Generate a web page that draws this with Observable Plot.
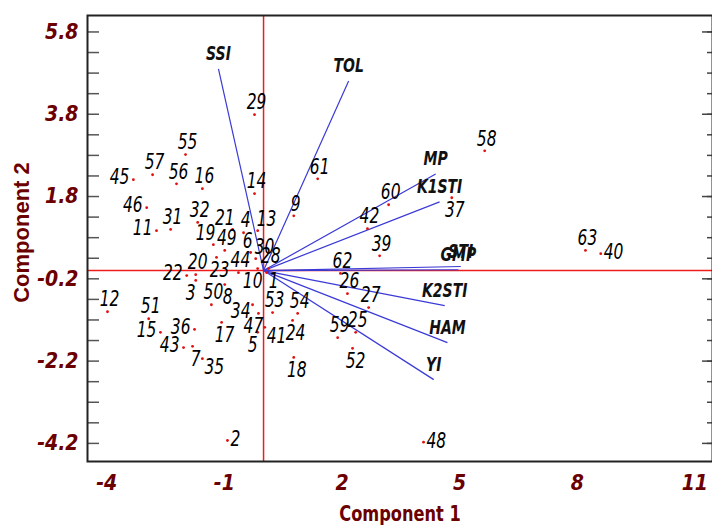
<!DOCTYPE html>
<html>
<head>
<meta charset="utf-8">
<script src="https://cdn.jsdelivr.net/npm/d3@7"></script>
<script src="https://cdn.jsdelivr.net/npm/@observablehq/plot@0.6"></script>
<style>
  html, body { margin: 0; padding: 0; background: #fff; }
  #chart svg { display: block; }
  .tick-lbl text { font-family: "Liberation Sans Narrow", "DejaVu Sans Condensed", "Arial Narrow", sans-serif; font-weight: bold; font-style: italic; }
</style>
</head>
<body>
<div id="chart"></div>
<script>
// Genotype scores (Component 1, Component 2)
const genotypeIds = [1,2,3,4,5,6,7,8,9,10,11,12,13,14,15,16,17,18,19,20,21,22,23,24,25,26,27,28,29,30,31,32,34,35,36,37,39,40,41,42,43,44,45,46,47,48,49,50,51,52,53,54,55,56,57,58,59,60,61,62,63];
const genotypePC1 = [0.08,-0.92,-1.73,-0.51,-0.15,-0.33,-1.81,-0.99,0.77,-0.15,-2.73,-3.98,-0.15,-0.23,-2.63,-1.56,-1.07,0.77,-1.28,-1.73,-0.79,-1.96,-1.20,0.74,2.35,2.14,2.68,0.13,-0.23,-0.20,-2.37,-1.68,-0.28,-1.56,-1.76,4.80,2.96,8.60,0.03,2.65,-2.04,-0.64,-3.32,-2.98,-0.13,4.08,-0.99,-1.33,-2.93,2.27,0.23,0.87,-1.99,-2.22,-2.83,5.64,1.89,3.19,1.38,1.96,8.21];
const genotypePC2 = [-0.05,-4.13,-0.24,0.92,-1.50,0.44,-1.84,-0.34,1.33,0.05,0.97,-1.00,0.97,1.87,-1.50,1.99,-1.26,-2.11,0.63,-0.10,1.00,-0.12,0.32,-1.21,-1.50,-0.56,-0.90,0.05,3.79,0.29,1.00,1.17,-0.83,-2.14,-1.43,1.77,0.36,0.41,-1.38,1.02,-1.87,-0.05,2.21,1.53,-1.04,-4.17,0.49,-0.83,-1.17,-1.89,-1.02,-1.04,2.82,2.11,2.33,2.91,-1.63,1.60,2.23,-0.07,0.49];

// Index vectors (loadings)
const indexNames = ["SSI","TOL","MP","K1STI","STI","GMP","K2STI","HAM","YI"];
const indexPC1 = [-1.15,2.17,4.39,4.49,5.03,4.97,4.62,4.69,4.34];
const indexPC2 = [4.90,4.61,2.35,1.67,0.10,0.02,-0.85,-1.75,-2.65];

// Axis ticks
const xTicks = [-4,-1,2,5,8,11];
const yTicks = [5.8,3.8,1.8,-0.2,-2.2,-4.2];
const yMinorTicks = d3.range(-4.2, 6.0, 0.5).map(v => Math.round(v*10)/10);

// label placement (styling only): which side of its dot each genotype label sits on
const placements = {
  above:      {dx: 2,  dy: -12, textAnchor: "middle"},
  aboveLeft:  {dx: 2,  dy: -11, textAnchor: "end"},
  aboveRight: {dx: -1, dy: -11, textAnchor: "start"},
  below:      {dx: 3,  dy: 13,  textAnchor: "middle"},
  belowLeft:  {dx: -5, dy: 13,  textAnchor: "middle"},
  belowRight: {dx: 2,  dy: 9,   textAnchor: "start"},
  left:       {dx: -4, dy: -2,  textAnchor: "end"},
  leftBelow:  {dx: -2, dy: 7,   textAnchor: "end"},
  right:      {dx: 3,  dy: -1,  textAnchor: "start"}
};
const placementOf = {
  below: [7,8,17,18,23,24,37,52],
  belowLeft: [3,5,10,47],
  belowRight: [1,35,41],
  left: [11,15,22,36,43,45,46],
  leftBelow: [34],
  right: [2,40,48],
  aboveLeft: [6,19,21],
  aboveRight: [13,30]
};
const sideOf = new Map();
for (const [k, ids] of Object.entries(placementOf)) for (const id of ids) sideOf.set(id, k);
const side = id => sideOf.get(id) || "above";

const genotypes = genotypeIds.map((id, i) => ({id, pc1: genotypePC1[i], pc2: genotypePC2[i]}));
const indices = indexNames.map((name, i) => ({name, pc1: indexPC1[i], pc2: indexPC2[i]}));

const W = 712, H = 527, mL = 87, mR = 0, mT = 15, mB = 66;
const innerW = W - mL - mR;
const narrow = '"Liberation Sans Narrow", "DejaVu Sans Condensed", "Arial Narrow", sans-serif';
const axisColor = "#6b0000";
const lblStyle = {x: "pc1", y: "pc2", text: d => String(d.id), fontSize: 21, fontStyle: "italic", fill: "#000", fontFamily: narrow, className: "narrow-lbl"};

const labelMarks = Object.entries(placements).map(([k, p]) =>
  Plot.text(genotypes.filter(d => side(d.id) === k), {...lblStyle, ...p}));

const chart = Plot.plot({
  width: W, height: H,
  marginLeft: mL, marginRight: mR, marginTop: mT, marginBottom: mB,
  style: {background: "#fff", fontFamily: narrow},
  x: {domain: [-4.49, 11.45]},
  y: {domain: [-4.64, 6.2]},
  marks: [
    // inward ticks on the left and right frame edges
    Plot.tickY(yMinorTicks, {y: d => d, insetRight: innerW - 12, stroke: "#555", strokeWidth: 1.5}),
    Plot.tickY(yMinorTicks, {y: d => d, insetLeft: innerW - 5, stroke: "#444", strokeWidth: 1.5}),
    Plot.tickY(yTicks, {y: d => d, insetLeft: innerW - 10, stroke: "#444", strokeWidth: 1.5}),
    // reference lines
    Plot.ruleX([0], {stroke: "#ee1c1c", strokeWidth: 1.5}),
    Plot.ruleY([0], {stroke: "#ee1c1c", strokeWidth: 1.5}),
    // index vectors
    Plot.link(indices, {x1: () => 0, y1: () => 0, x2: "pc1", y2: "pc2", stroke: "#3a3ad6", strokeWidth: 1.2}),
    Plot.text(indices, {x: "pc1", y: "pc2", text: "name", dy: -15, fontSize: 19, fontWeight: "bold", fontStyle: "italic", fill: "#111", fontFamily: narrow, className: "narrow-lbl"}),
    // genotype scores
    Plot.dot(genotypes, {x: "pc1", y: "pc2", r: 1.4, fill: "#e01010", stroke: null}),
    ...labelMarks,
    // frame
    Plot.frame({stroke: "#222", strokeWidth: 2}),
    // axes
    Plot.axisX({ticks: xTicks, tickFormat: d => String(d), tickSize: 0, tickPadding: 14, fontSize: 21, color: axisColor, label: null, className: "tick-lbl"}),
    Plot.axisY({ticks: yTicks, tickFormat: d => d.toFixed(1), tickSize: 0, tickPadding: 9, fontSize: 21, color: axisColor, label: null, className: "tick-lbl"}),
    // axis titles
    Plot.text(["Component 1"], {frameAnchor: "bottom", textAnchor: "middle", lineAnchor: "middle", dy: 52, text: d => d, fontSize: 22, fontWeight: "bold", fill: axisColor, fontFamily: narrow, className: "narrow-lbl"}),
    Plot.text(["Component 2"], {frameAnchor: "left", textAnchor: "middle", lineAnchor: "middle", dx: -66, dy: -6, rotate: -90, text: d => d, fontSize: 22, fontWeight: "bold", fill: axisColor, fontFamily: '"Liberation Sans", Arial, sans-serif'})
  ]
});
// condense the label glyphs horizontally (narrow typeface look)
chart.querySelectorAll(".narrow-lbl text").forEach(t => {
  const tr = t.getAttribute("transform");
  if (tr) t.setAttribute("transform", tr + " scale(0.82,1)");
});
document.getElementById("chart").appendChild(chart);
</script>
</body>
</html>
